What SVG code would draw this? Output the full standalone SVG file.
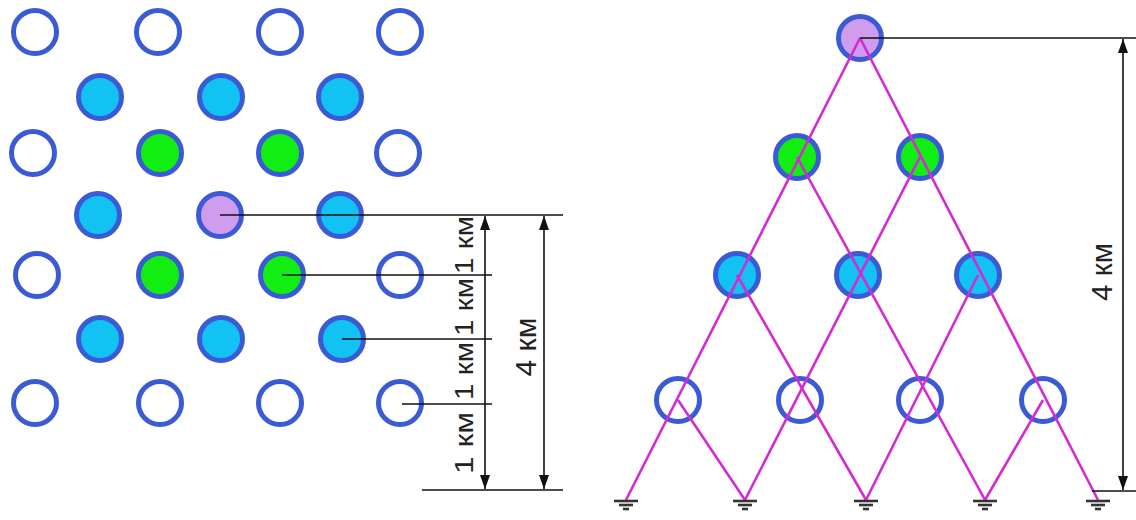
<svg xmlns="http://www.w3.org/2000/svg" width="1136" height="520" viewBox="0 0 1136 520">
<style>
.n circle{stroke:#3b5ad6;stroke-width:5}
.h{fill:#ffffff}
.c{fill:#12c2f2}
.g{fill:#12ee12}
.p{fill:#cf9cee}
.dim{stroke:#111;stroke-width:1.6;fill:none}
.mg{stroke:#d42ad4;stroke-width:2.6;fill:none}
.gnd{stroke:#333;stroke-width:2.6}
text{font-family:"Liberation Sans",Arial,sans-serif;fill:#222}
.s{font-size:26px}
.b{font-size:29px}
</style>
<defs>
<marker id="ar" viewBox="0 0 14 10" refX="14" refY="5" markerWidth="14" markerHeight="10" markerUnits="userSpaceOnUse" orient="auto-start-reverse">
<path d="M0,0 L14,5 L0,10 z" fill="#111"/>
</marker>
<g id="ground">
<line class="gnd" x1="-12" y1="0" x2="12" y2="0"/>
<line class="gnd" x1="-7" y1="4" x2="7" y2="4"/>
<line class="gnd" x1="-3" y1="8" x2="3" y2="8"/>
</g>
</defs>
<rect width="1136" height="520" fill="#ffffff"/>

<!-- Left grid -->
<g id="left-nodes" class="n">
<g id="L1-1"><circle class="h" cx="35" cy="32" r="21.5"/></g>
<g id="L1-2"><circle class="h" cx="158" cy="32" r="21.5"/></g>
<g id="L1-3"><circle class="h" cx="280" cy="32" r="21.5"/></g>
<g id="L1-4"><circle class="h" cx="400" cy="32" r="21.5"/></g>
<g id="L2-1"><circle class="c" cx="100" cy="97" r="21.5"/></g>
<g id="L2-2"><circle class="c" cx="221" cy="97" r="21.5"/></g>
<g id="L2-3"><circle class="c" cx="340" cy="97" r="21.5"/></g>
<g id="L3-1"><circle class="h" cx="33" cy="153" r="21.5"/></g>
<g id="L3-2"><circle class="g" cx="160" cy="153" r="21.5"/></g>
<g id="L3-3"><circle class="g" cx="280" cy="153" r="21.5"/></g>
<g id="L3-4"><circle class="h" cx="398" cy="153" r="21.5"/></g>
<g id="L4-1"><circle class="c" cx="98" cy="215" r="21.5"/></g>
<g id="L4-2"><circle class="p" cx="220" cy="215" r="21.5"/></g>
<g id="L4-3"><circle class="c" cx="340" cy="215" r="21.5"/></g>
<g id="L5-1"><circle class="h" cx="37" cy="275" r="21.5"/></g>
<g id="L5-2"><circle class="g" cx="160" cy="275" r="21.5"/></g>
<g id="L5-3"><circle class="g" cx="282" cy="275" r="21.5"/></g>
<g id="L5-4"><circle class="h" cx="400" cy="275" r="21.5"/></g>
<g id="L6-1"><circle class="c" cx="100" cy="339" r="21.5"/></g>
<g id="L6-2"><circle class="c" cx="221" cy="339" r="21.5"/></g>
<g id="L6-3"><circle class="c" cx="342" cy="339" r="21.5"/></g>
<g id="L7-1"><circle class="h" cx="35" cy="403" r="21.5"/></g>
<g id="L7-2"><circle class="h" cx="160" cy="403" r="21.5"/></g>
<g id="L7-3"><circle class="h" cx="280" cy="403" r="21.5"/></g>
<g id="L7-4"><circle class="h" cx="400" cy="403" r="21.5"/></g>
</g>

<!-- Left dimensions -->
<g id="left-dimensions">
<line class="dim" x1="220" y1="215" x2="563" y2="215"/>
<line class="dim" x1="282" y1="275" x2="492" y2="275"/>
<line class="dim" x1="342" y1="339" x2="492" y2="339"/>
<line class="dim" x1="402" y1="404" x2="492" y2="404" stroke="#555"/>
<line class="dim" x1="422" y1="490" x2="563" y2="490"/>
<line class="dim" x1="485" y1="216" x2="485" y2="489" marker-start="url(#ar)" marker-end="url(#ar)"/>
<line class="dim" x1="544" y1="216" x2="544" y2="489" marker-start="url(#ar)" marker-end="url(#ar)"/>
<text class="s" transform="translate(473,245) rotate(-90)" text-anchor="middle" textLength="58" lengthAdjust="spacingAndGlyphs">1 км</text>
<text class="s" transform="translate(473,307) rotate(-90)" text-anchor="middle" textLength="58" lengthAdjust="spacingAndGlyphs">1 км</text>
<text class="s" transform="translate(473,371) rotate(-90)" text-anchor="middle" textLength="58" lengthAdjust="spacingAndGlyphs">1 км</text>
<text class="s" transform="translate(473,443) rotate(-90)" text-anchor="middle" textLength="62" lengthAdjust="spacingAndGlyphs">1 км</text>
<text class="b" transform="translate(536,347) rotate(-90)" text-anchor="middle" textLength="59" lengthAdjust="spacingAndGlyphs">4 км</text>
</g>

<!-- Right tree nodes -->
<g id="right-nodes" class="n">
<g id="R-top"><circle class="p" cx="860" cy="38" r="21.5"/></g>
<g id="R2-1"><circle class="g" cx="797" cy="157" r="21.5"/></g>
<g id="R2-2"><circle class="g" cx="920" cy="157" r="21.5"/></g>
<g id="R3-1"><circle class="c" cx="737" cy="275" r="21.5"/></g>
<g id="R3-2"><circle class="c" cx="858" cy="275" r="21.5"/></g>
<g id="R3-3"><circle class="c" cx="978" cy="275" r="21.5"/></g>
<g id="R4-1"><circle class="h" cx="678" cy="400" r="21.5"/></g>
<g id="R4-2"><circle class="h" cx="800" cy="400" r="21.5"/></g>
<g id="R4-3"><circle class="h" cx="920" cy="400" r="21.5"/></g>
<g id="R4-4"><circle class="h" cx="1043" cy="400" r="21.5"/></g>
</g>

<!-- Connectors -->
<g id="connectors" class="mg">
<line x1="860" y1="38" x2="626" y2="500"/>
<line x1="920" y1="157" x2="745" y2="500"/>
<line x1="978" y1="275" x2="866" y2="500"/>
<line x1="1043" y1="400" x2="985" y2="500"/>
<line x1="860" y1="38" x2="1098" y2="500"/>
<line x1="797" y1="157" x2="985" y2="500"/>
<line x1="737" y1="275" x2="866" y2="500"/>
<line x1="678" y1="400" x2="745" y2="500"/>
</g>

<!-- Grounds -->
<g id="grounds">
<use href="#ground" x="626" y="501"/>
<use href="#ground" x="745" y="501"/>
<use href="#ground" x="866" y="501"/>
<use href="#ground" x="985" y="501"/>
<use href="#ground" x="1098" y="501"/>
</g>

<!-- Right dimension -->
<g id="right-dimension">
<line class="dim" x1="860" y1="38" x2="1136" y2="38"/>
<line class="dim" x1="1092" y1="491" x2="1136" y2="491"/>
<line class="dim" x1="1123" y1="39" x2="1123" y2="490" marker-start="url(#ar)" marker-end="url(#ar)"/>
<text class="b" transform="translate(1112,272) rotate(-90)" text-anchor="middle" textLength="58" lengthAdjust="spacingAndGlyphs">4 км</text>
</g>
</svg>
